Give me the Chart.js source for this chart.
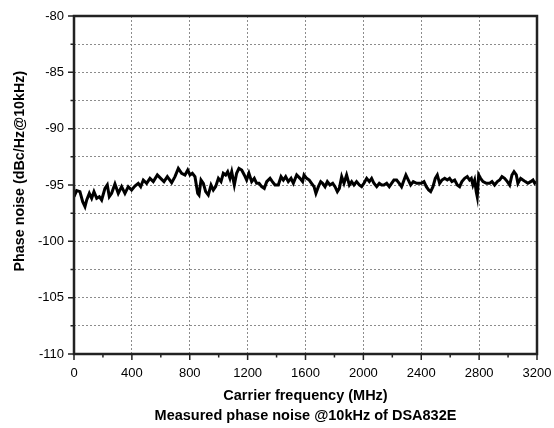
<!DOCTYPE html>
<html>
<head>
<meta charset="utf-8">
<script src="https://cdn.jsdelivr.net/npm/chart.js@4"></script>
<style>
    html, body { margin: 0; padding: 0; background: #fff; }
    #wrap { width: 554px; height: 428px; }
</style>
</head>
<body>
<div id="wrap"><canvas id="noiseChart"></canvas></div>
<script>
// Carrier frequency (MHz)
const freqMHz = [
    0, 18, 41, 60, 76, 88, 106, 122, 138, 157, 175, 191, 214, 230, 244, 260, 283, 306, 329, 352,
    375, 398, 421, 444, 461, 479, 502, 525, 548, 576, 599, 622, 645, 675, 698, 721, 744, 767, 786, 802,
    818, 836, 855, 864, 878, 894, 910, 928, 947, 963, 979, 998, 1016, 1032, 1048, 1062, 1078, 1090, 1108, 1124,
    1140, 1159, 1177, 1193, 1209, 1228, 1246, 1262, 1279, 1297, 1315, 1332, 1355, 1371, 1389, 1412, 1431, 1447, 1463, 1481,
    1500, 1516, 1539, 1562, 1580, 1590, 1608, 1626, 1642, 1659, 1672, 1689, 1705, 1718, 1735, 1751, 1769, 1788, 1804, 1820,
    1834, 1850, 1866, 1884, 1903, 1919, 1935, 1953, 1972, 1988, 2004, 2023, 2041, 2057, 2073, 2092, 2110, 2126, 2142, 2161,
    2179, 2195, 2211, 2230, 2248, 2264, 2281, 2294, 2311, 2327, 2345, 2368, 2377, 2400, 2419, 2435, 2451, 2465, 2481, 2497,
    2511, 2527, 2543, 2562, 2580, 2596, 2612, 2631, 2649, 2665, 2681, 2700, 2718, 2734, 2746, 2757, 2769, 2780, 2787, 2797,
    2810, 2827, 2850, 2873, 2889, 2907, 2926, 2942, 2958, 2976, 2995, 3011, 3027, 3041, 3057, 3068, 3087, 3103, 3119, 3137,
    3156, 3172, 3184, 3195
];

// Phase noise (dBc/Hz @10kHz)
const noiseDb = [
    -96.04, -95.50, -95.59, -96.48, -96.92, -96.33, -95.74, -96.18, -95.59, -96.18, -96.04, -96.33, -95.30, -95.00, -96.04, -95.74, -94.91, -95.74, -95.15, -95.74,
    -95.15, -95.44, -95.09, -94.85, -95.15, -94.56, -94.85, -94.41, -94.70, -94.11, -94.41, -94.70, -94.26, -94.79, -94.26, -93.52, -93.96, -94.11, -93.67, -94.11,
    -93.96, -94.26, -95.74, -95.89, -94.56, -94.85, -95.59, -95.89, -95.00, -95.44, -95.15, -94.41, -94.70, -93.96, -94.11, -93.82, -94.41, -93.82, -95.00, -93.96,
    -93.52, -93.67, -94.11, -94.56, -93.96, -94.70, -94.41, -94.85, -94.85, -95.15, -95.30, -94.70, -94.41, -94.70, -95.00, -95.00, -94.26, -94.56, -94.26, -94.70,
    -94.41, -94.85, -94.11, -94.41, -94.70, -94.11, -94.41, -94.56, -94.85, -95.15, -95.74, -95.15, -94.70, -94.85, -95.15, -94.70, -95.00, -94.85, -95.15, -95.59,
    -95.30, -94.26, -94.85, -94.11, -95.00, -94.70, -95.00, -94.70, -95.00, -95.15, -94.85, -94.41, -94.70, -94.41, -94.85, -95.15, -94.85, -95.00, -95.00, -94.85,
    -95.15, -94.85, -94.56, -94.56, -94.85, -95.15, -94.56, -94.11, -94.56, -95.00, -94.70, -94.85, -94.85, -94.85, -94.70, -95.15, -95.44, -95.59, -95.15, -94.41,
    -94.11, -94.85, -94.56, -94.41, -94.56, -94.41, -94.70, -94.56, -95.00, -95.15, -94.70, -94.41, -94.26, -94.56, -94.41, -95.00, -94.56, -95.59, -96.04, -94.11,
    -94.41, -94.70, -94.85, -94.85, -94.70, -95.00, -94.70, -94.56, -94.26, -94.41, -94.70, -95.00, -94.11, -93.82, -94.11, -94.85, -94.41, -94.56, -94.70, -94.85,
    -94.70, -94.56, -94.85, -94.70
];

const xMin = 0, xMax = 3200, xStep = 400;
const yMin = -110, yMax = -80, yStep = 2.5;

// frame + outward tick marks (major / minor)
const frameTicks = {
    id: "frameTicks",
    afterDraw(chart) {
        const { ctx, chartArea: a, scales } = chart;
        ctx.save();
        ctx.strokeStyle = "#222";
        ctx.lineWidth = 2.5;
        ctx.strokeRect(a.left, a.top, a.right - a.left, a.bottom - a.top);

        ctx.lineWidth = 1.5;
        ctx.beginPath();
        for (let v = xMin; v <= xMax; v += xStep / 2) {
            const px = scales.x.getPixelForValue(v);
            const len = v % xStep === 0 ? 6 : 3.5;
            ctx.moveTo(px, a.bottom);
            ctx.lineTo(px, a.bottom + len);
        }
        for (let v = yMin; v <= yMax; v += yStep) {
            const py = scales.y.getPixelForValue(v);
            const len = v % 5 === 0 ? 6 : 3.5;
            ctx.moveTo(a.left, py);
            ctx.lineTo(a.left - len, py);
        }
        ctx.stroke();
        ctx.restore();
    },
};

new Chart(document.getElementById("noiseChart").getContext("2d"), {
    type: "line",
    data: {
        datasets: [
            {
                data: freqMHz.map((f, i) => ({ x: f, y: noiseDb[i] })),
                borderColor: "#000",
                borderWidth: 3,
                pointRadius: 0,
                tension: 0,
                fill: false,
            },
        ],
    },
    options: {
        responsive: true,
        maintainAspectRatio: false,
        animation: false,
        layout: { padding: { top: 16, right: 17, left: 11, bottom: 2 } },
        plugins: { legend: { display: false }, tooltip: { enabled: false } },
        scales: {
            x: {
                type: "linear",
                min: xMin,
                max: xMax,
                ticks: {
                    stepSize: xStep,
                    color: "#000",
                    padding: 12,
                    maxRotation: 0,
                    font: { family: "Liberation Sans, Arial", size: 13 },
                    callback: (v) => String(v),
                },
                grid: {
                    color: "#8c8c8c",
                    lineWidth: 1,
                    drawTicks: false,
                },
                border: { display: false, dash: [2, 2] },
                title: {
                    display: true,
                    text: ["Carrier frequency (MHz)", "Measured phase noise @10kHz of DSA832E"],
                    color: "#000",
                    font: { family: "Liberation Sans, Arial", size: 14.5, weight: "bold", lineHeight: 1.38 },
                    padding: { top: 11, bottom: 0 },
                },
                afterFit(scale) {
                    scale.height = 428 - 354 - 2;
                    scale.paddingLeft = 0;
                    scale.paddingRight = 0;
                },
            },
            y: {
                min: yMin,
                max: yMax,
                ticks: {
                    stepSize: yStep,
                    color: "#000",
                    padding: 10,
                    font: { family: "Liberation Sans, Arial", size: 13 },
                    callback: (v) => (v % 5 === 0 ? String(v) : ""),
                },
                grid: {
                    color: "#8c8c8c",
                    lineWidth: 1,
                    drawTicks: false,
                },
                border: { display: false, dash: [2, 2] },
                title: {
                    display: true,
                    // leading spaces nudge the rotated title up, as in the source figure
                    text: "       Phase noise (dBc/Hz@10kHz)",
                    color: "#000",
                    font: { family: "Liberation Sans, Arial", size: 14.3, weight: "bold" },
                    padding: { top: 0, bottom: 4 },
                },
                afterFit(scale) {
                    scale.width = 74 - 11;
                    scale.paddingTop = 0;
                    scale.paddingBottom = 0;
                },
            },
        },
    },
    plugins: [frameTicks],
});
</script>
</body>
</html>
